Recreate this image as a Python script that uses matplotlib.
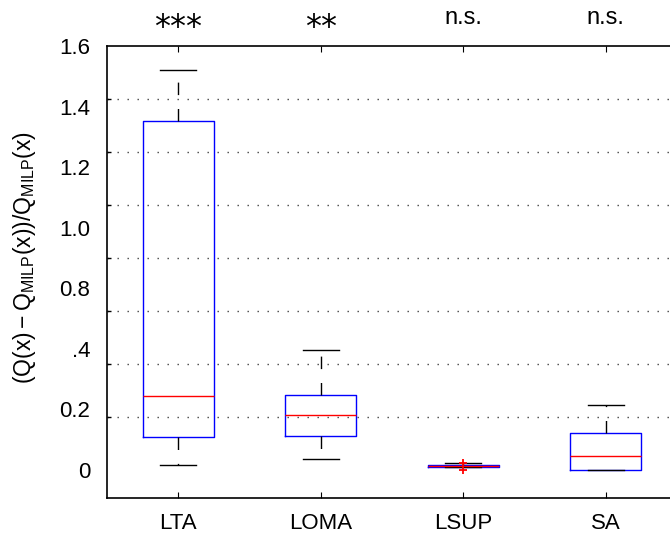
import matplotlib
matplotlib.use("Agg")
import matplotlib.pyplot as plt
import numpy as np

plt.rcParams["font.family"] = ["Liberation Sans", "DejaVu Sans"]
plt.rcParams["mathtext.fontset"] = "custom"
plt.rcParams["mathtext.rm"] = "Liberation Sans"
plt.rcParams["mathtext.it"] = "Liberation Sans:italic"

# box statistics
methods = ["LTA", "LOMA", "LSUP", "SA"]
whisker_low = [0.019, 0.043, 0.010, 0.000]
quartile_1 = [0.126, 0.128, 0.010, 0.001]
medians = [0.279, 0.208, 0.014, 0.054]
quartile_3 = [1.318, 0.282, 0.019, 0.140]
whisker_high = [1.509, 0.451, 0.025, 0.244]
outliers = [[], [], [0.027, 0.001], []]
significance = ["***", "**", "n.s.", "n.s."]

# tick labels as printed (evenly spread, not on the grid)
ytick_text = ["0", "0.2", ".4", "0.8", "1.0", "1.2", "1.4", "1.6"]
grid_values = [0.0, 0.2, 0.4, 0.6, 0.8, 1.0, 1.2, 1.4, 1.6]

stats = []
for i, name in enumerate(methods):
    stats.append({
        "label": name,
        "whislo": whisker_low[i],
        "q1": quartile_1[i],
        "med": medians[i],
        "q3": quartile_3[i],
        "whishi": whisker_high[i],
        "fliers": outliers[i],
    })

fig = plt.figure(figsize=(6.7, 5.34), dpi=100)
ax = fig.add_axes([107 / 670, 36 / 534, 570 / 670, 452 / 534])

ax.bxp(
    stats,
    positions=np.arange(1, len(methods) + 1),
    widths=0.5,
    capwidths=0.25,
    boxprops=dict(color="blue", linewidth=1.0),
    medianprops=dict(color="red", linewidth=1.0),
    whiskerprops=dict(color="black", linewidth=1.0, linestyle=(0, (9, 10))),
    capprops=dict(color="black", linewidth=1.0),
    flierprops=dict(marker="+", markeredgecolor="red", markersize=6,
                    markeredgewidth=1.3, linestyle="none"),
)

ax.set_xlim(0.5, 4.5)
ax.set_ylim(-0.106, 1.6)

ytick_pos = np.linspace(0, 1.6, len(ytick_text))
ax.set_yticks(ytick_pos)
ax.set_yticklabels(ytick_text)
ax.set_yticks(grid_values, minor=True)
ax.tick_params(axis="y", which="major", length=0, pad=12, labelsize=16)
ax.tick_params(axis="y", which="minor", length=3, direction="in", width=1)
ax.grid(axis="y", which="minor", color="#444444", linestyle=(0, (1, 6.2)),
        linewidth=1.0)

ax.set_xticks(np.arange(1, len(methods) + 1))
ax.set_xticklabels(methods)
ax.tick_params(axis="x", which="both", direction="in", length=4.5,
               top=True, pad=11, labelsize=16)
ax.tick_params(axis="x", which="minor", length=0)

for side in ["left", "top", "bottom", "right"]:
    ax.spines[side].set_linewidth(1.2)

ax.set_ylabel(r"$\mathregular{(Q(x)-Q_{MILP}(x))/Q_{MILP}(x)}$", fontsize=16.5)
ax.yaxis.set_label_coords(-0.121, 0.531)

for i, mark in enumerate(significance):
    if mark.startswith("*"):
        ax.text(i + 1, 1.022, mark, transform=ax.get_xaxis_transform(),
                ha="center", va="baseline", fontsize=23, family="DejaVu Sans")
    else:
        ax.text(i + 1, 1.049, mark, transform=ax.get_xaxis_transform(),
                ha="center", va="baseline", fontsize=17)

fig.savefig("out.png", dpi=100)
